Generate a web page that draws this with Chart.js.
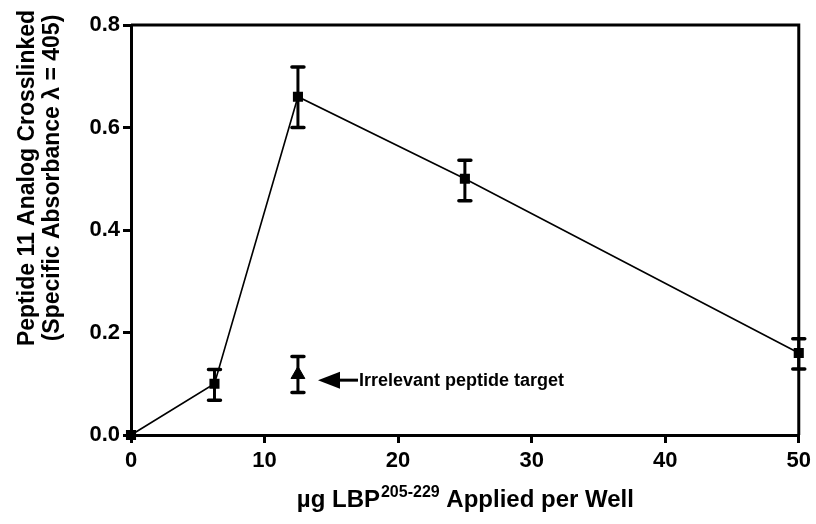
<!DOCTYPE html>
<html><head><meta charset="utf-8">
<script src="https://cdn.jsdelivr.net/npm/chart.js@4"></script>
<style>html,body{margin:0;padding:0;background:#fff}#wrap{width:816px;height:524px}</style>
</head><body><div id="wrap"><canvas id="c" width="816" height="524"></canvas></div>
<script>
// Data
const doseX = [0, 6.25, 12.5, 25, 50];
const crosslinked = [0, 0.10, 0.66, 0.50, 0.16];
const crosslinkedLow = [0, 0.068, 0.60, 0.457, 0.129];
const crosslinkedHigh = [0, 0.128, 0.718, 0.536, 0.188];
const irrelevantX = [12.5];
const irrelevant = [0.118];
const irrelevantLow = [0.083];
const irrelevantHigh = [0.153];
const xTicks = [0, 10, 20, 30, 40, 50];
const yTicks = [0.0, 0.2, 0.4, 0.6, 0.8];
const annotationText = "Irrelevant peptide target";
const annotationAt = {x: 14.0, y: 0.107};
const yTitle = ["Peptide 11 Analog Crosslinked", "(Specific Absorbance \u03bb = 405)"];
const xTitle = ["\u00b5g LBP", "205-229", " Applied per Well"];

const FONT = "'Liberation Sans', Arial, sans-serif";

const extras = {
  id: 'extras',
  afterDatasetsDraw(chart) {
    const ctx = chart.ctx, xs = chart.scales.x, ys = chart.scales.y, a = chart.chartArea;
    ctx.save();
    // frame top/right
    ctx.strokeStyle = '#000'; ctx.lineWidth = 3;
    ctx.beginPath();
    ctx.moveTo(a.left, a.top); ctx.lineTo(a.right, a.top); ctx.lineTo(a.right, a.bottom);
    ctx.stroke();
    // error bars
    const drawErr = (xv, lo, hi) => {
      for (let i = 0; i < xv.length; i++) {
        if (hi[i] - lo[i] <= 0) continue;
        const px = xs.getPixelForValue(xv[i]);
        const y1 = ys.getPixelForValue(lo[i]), y2 = ys.getPixelForValue(hi[i]);
        ctx.lineWidth = 3; ctx.lineCap = 'butt';
        ctx.beginPath(); ctx.moveTo(px, y1); ctx.lineTo(px, y2); ctx.stroke();
        ctx.lineWidth = 3.5; ctx.lineCap = 'round';
        ctx.beginPath(); ctx.moveTo(px - 6, y1); ctx.lineTo(px + 6, y1);
        ctx.moveTo(px - 6, y2); ctx.lineTo(px + 6, y2); ctx.stroke();
      }
    };
    drawErr(doseX, crosslinkedLow, crosslinkedHigh);
    drawErr(irrelevantX, irrelevantLow, irrelevantHigh);
    // annotation arrow + text
    const tx = xs.getPixelForValue(annotationAt.x), ty = ys.getPixelForValue(annotationAt.y);
    ctx.fillStyle = '#000';
    ctx.beginPath(); ctx.moveTo(tx, ty); ctx.lineTo(tx + 22, ty - 8.5); ctx.lineTo(tx + 22, ty + 8.5); ctx.closePath(); ctx.fill();
    ctx.lineWidth = 3; ctx.lineCap = 'butt';
    ctx.beginPath(); ctx.moveTo(tx + 20, ty); ctx.lineTo(tx + 40, ty); ctx.stroke();
    ctx.font = "bold 18px " + FONT; ctx.textBaseline = 'middle'; ctx.textAlign = 'left';
    ctx.fillText(annotationText, tx + 41, ty + 1);
    // y title
    const cy = 178;
    ctx.font = "bold 23px " + FONT; ctx.textAlign = 'center'; ctx.textBaseline = 'middle';
    ctx.save(); ctx.translate(28, cy); ctx.rotate(-Math.PI / 2); ctx.fillText(yTitle[0], 0, 0); ctx.restore();
    ctx.save(); ctx.translate(53, cy); ctx.rotate(-Math.PI / 2); ctx.fillText(yTitle[1], 0, 0); ctx.restore();
    // x title with superscript
    const mainF = "bold 24px " + FONT, supF = "bold 16px " + FONT;
    ctx.font = mainF; const w1 = ctx.measureText(xTitle[0]).width, w3 = ctx.measureText(xTitle[2]).width;
    ctx.font = supF; const w2 = ctx.measureText(xTitle[1]).width;
    const total = w1 + w2 + w3;
    let sx = (a.left + a.right) / 2 - total / 2; const by = 507;
    ctx.textAlign = 'left'; ctx.textBaseline = 'alphabetic';
    ctx.font = mainF; ctx.fillText(xTitle[0], sx, by); sx += w1;
    ctx.font = supF; ctx.fillText(xTitle[1], sx + 1, by - 10); sx += w2 + 1;
    ctx.font = mainF; ctx.fillText(xTitle[2], sx, by);
    ctx.restore();
  }
};

new Chart(document.getElementById('c'), {
  type: 'scatter',
  data: {
    datasets: [
      {
        data: doseX.map((x, i) => ({x, y: crosslinked[i]})),
        showLine: true, borderColor: '#000', borderWidth: 1.6, clip: false,
        pointStyle: 'rect', pointRadius: 6, pointBackgroundColor: '#000', pointBorderColor: '#000',
        order: 1
      },
      {
        data: irrelevantX.map((x, i) => ({x, y: irrelevant[i]})),
        showLine: false, clip: false,
        pointStyle: 'triangle', pointRadius: 8, pointBackgroundColor: '#000', pointBorderColor: '#000',
        order: 2
      }
    ]
  },
  options: {
    responsive: false, animation: false, devicePixelRatio: 1,
    layout: {padding: {top: 25, right: 14, left: 0, bottom: 0}},
    plugins: {legend: {display: false}, tooltip: {enabled: false}},
    scales: {
      x: {
        type: 'linear', min: 0, max: 50,
        afterBuildTicks: s => { s.ticks = xTicks.map(v => ({value: v})); },
        afterFit: s => { s.height = 89; },
        border: {color: '#000', width: 3},
        grid: {drawOnChartArea: false, color: '#000', lineWidth: 3, tickLength: 8},
        ticks: {color: '#000', font: {family: FONT, weight: 'bold', size: 22}, padding: 5, maxRotation: 0}
      },
      y: {
        type: 'linear', min: 0, max: 0.8,
        afterBuildTicks: s => { s.ticks = yTicks.map(v => ({value: v})); },
        afterFit: s => { s.width = 131; },
        border: {color: '#000', width: 3},
        grid: {drawOnChartArea: false, color: '#000', lineWidth: 3, tickLength: 8},
        ticks: {color: '#000', font: {family: FONT, weight: 'bold', size: 22}, padding: 3,
          callback: v => Number(v).toFixed(1)}
      }
    }
  },
  plugins: [extras]
});
</script></body></html>
